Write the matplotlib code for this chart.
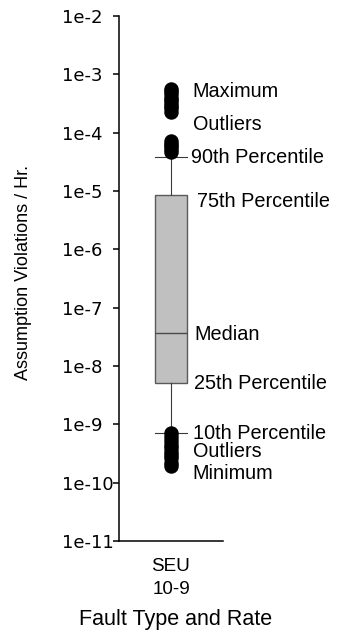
import numpy as np
import matplotlib
matplotlib.use("Agg")
import matplotlib.pyplot as plt
from matplotlib.ticker import FixedLocator, FuncFormatter, NullLocator

plt.rcParams['font.family'] = ['Liberation Sans', 'DejaVu Sans']

# summary statistics of assumption violations per hour
category = "SEU\n10-9"
q1 = 5.05e-9
median = 3.7e-8
q3 = 8.5e-6
p10 = 7.0e-10
p90 = 3.8e-5
upper_outliers = [5.7e-4, 5.2e-4, 4.6e-4, 4.0e-4, 3.6e-4, 3.2e-4, 2.9e-4, 2.6e-4, 2.3e-4,
                  7.1e-5, 6.4e-5, 5.8e-5, 5.3e-5, 4.75e-5]
lower_outliers = [7.0e-10, 6.0e-10, 5.2e-10, 4.5e-10, 3.9e-10, 3.4e-10, 3.0e-10,
                  2.6e-10, 2.2e-10, 1.9e-10]
y_ticks = [1e-2, 1e-3, 1e-4, 1e-5, 1e-6, 1e-7, 1e-8, 1e-9, 1e-10, 1e-11]

fig = plt.figure(figsize=(3.4, 6.35), dpi=100)
ax = fig.add_axes([119 / 340, 1 - 541 / 635, 104 / 340, 525 / 635])

stats = [dict(med=median, q1=q1, q3=q3, whislo=p10, whishi=p90,
              fliers=upper_outliers + lower_outliers, label=category)]
ax.bxp(stats, positions=[1], widths=0.3, capwidths=0.3, patch_artist=True,
       boxprops=dict(facecolor='#c0c0c0', edgecolor='#5a5a5a', linewidth=1.0),
       medianprops=dict(color='#4a4a4a', linewidth=1.0),
       whiskerprops=dict(color='#3a3a3a', linewidth=0.8),
       capprops=dict(color='#3a3a3a', linewidth=0.8),
       flierprops=dict(marker='o', markerfacecolor='black', markeredgecolor='black',
                       markersize=9.4, linestyle='none'))

ax.set_yscale('log')
ax.set_ylim(1e-11, 1e-2)
ax.set_xlim(0.5, 1.5)
ax.yaxis.set_major_locator(FixedLocator(y_ticks))
ax.yaxis.set_minor_locator(NullLocator())
ax.yaxis.set_major_formatter(FuncFormatter(lambda v, _: "1e%d" % round(np.log10(v))))

for s in ['top', 'right']:
    ax.spines[s].set_visible(False)
for s in ['left', 'bottom']:
    ax.spines[s].set_linewidth(1.1)

ax.tick_params(axis='y', direction='out', length=4.3, width=1.1, pad=36.7, labelsize=13)
for lbl in ax.get_yticklabels():
    lbl.set_horizontalalignment('left')
    lbl.set_fontfamily('DejaVu Sans')
ax.tick_params(axis='x', length=0, pad=12, labelsize=13.6)
for lbl in ax.get_xticklabels():
    lbl.set_linespacing(1.45)

# annotation labels to the right of the box
tx = 1.21
ann = dict(fontsize=14.3, va='center', ha='left', textcoords='offset points',
           annotation_clip=False)
top_max = max(upper_outliers)
low_min = min(lower_outliers)
ax.annotate("Maximum", (tx, top_max), xytext=(0, -2), **ann)
ax.annotate("Outliers", (tx, np.sqrt(top_max * p90)), xytext=(0, -1), **ann)
ax.annotate("90th Percentile", (tx, p90), xytext=(-1, 0), **ann)
ax.annotate("75th Percentile", (tx, q3), xytext=(3, -4.5), **ann)
ax.annotate("Median", (tx, median), xytext=(1, -1), **ann)
ax.annotate("25th Percentile", (tx, q1), xytext=(1, 0), **ann)
ax.annotate("10th Percentile", (tx, p10), xytext=(0, 0), **ann)
ax.annotate("Outliers", (tx, np.sqrt(p10 * low_min)), xytext=(0, -1.5), **ann)
ax.annotate("Minimum", (tx, low_min), xytext=(0, -4.8), **ann)

fig.text(24 / 340, 1 - 272.5 / 635, "Assumption Violations / Hr.", rotation=90,
         ha='center', va='center', fontsize=13)
fig.text(176 / 340, 1 - 625 / 635, "Fault Type and Rate", ha='center', va='baseline',
         fontsize=15.5)

fig.savefig("out.png", dpi=100)
